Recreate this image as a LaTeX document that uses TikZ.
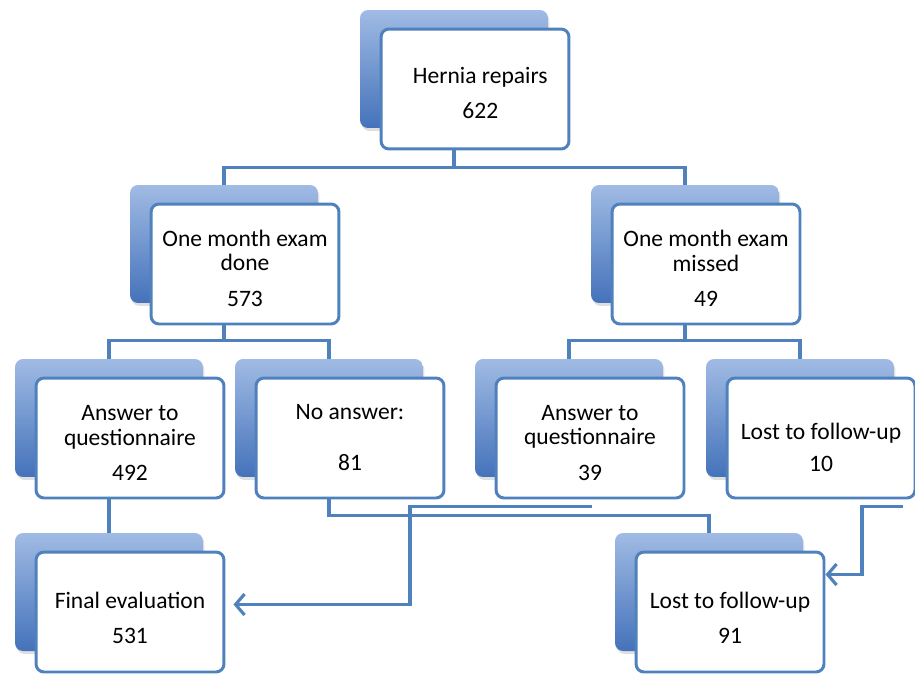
\documentclass[tikz,border=0pt]{standalone}
\usepackage{fontspec}
\setmainfont{Carlito}
\usetikzlibrary{arrows.meta,shadows}
\definecolor{lineblue}{RGB}{79,129,189}
\definecolor{cardtop}{RGB}{160,187,228}
\definecolor{cardbot}{RGB}{68,114,186}
\newcommand{\tallline}[1][14pt]{\rule{0pt}{#1}}

\begin{document}
\begin{tikzpicture}[
    x=0.02cm, y=-0.02cm,
    every node/.style={font=\fontsize{13.4}{14}\selectfont},
    card/.style={rounded corners=0.16cm, minimum width=3.76cm, minimum height=2.36cm, top color=cardtop, bottom color=cardbot, draw=none,
        drop shadow={shadow xshift=0.3mm, shadow yshift=-0.6mm, opacity=0.25}},
    box/.style={draw=lineblue, line width=1.7pt, rounded corners=0.16cm, fill=white, align=center, minimum width=3.76cm, minimum height=2.4cm, inner sep=0pt},
    link/.style={draw=lineblue, line width=1.8pt},
    jump/.style={link, -{Straight Barb[length=1.8mm,width=4.2mm]}}
]
\useasboundingbox (0,0) rectangle (915,676);
% level 1
\node[card] (herniaback) at (454,69) {};
\node[box] (hernia) at ([shift={(21,20)}]herniaback) {\tallline\hspace*{6pt}Hernia repairs\\[6pt]\hspace*{6pt}622};
% level 2
\node[card] (doneback) at (224,244) {};
\node[box] (done) at ([shift={(21,20)}]doneback) {\tallline One month exam\\done\\[6pt]573};
\node[card] (missedback) at (685,244) {};
\node[box] (missed) at ([shift={(21,20)}]missedback) {\tallline One month exam\\missed\\[6pt]49};
% level 3
\node[card] (ansdoneback) at (109,418) {};
\node[box] (ansdone) at ([shift={(21,20)}]ansdoneback) {\tallline Answer to\\questionnaire\\[6pt]492};
\node[card] (noansback) at (329,418) {};
\node[box] (noans) at ([shift={(21,20)}]noansback) {No answer:\\[15pt]81};
\node[card] (ansmissedback) at (569,418) {};
\node[box] (ansmissed) at ([shift={(21,20)}]ansmissedback) {\tallline Answer to\\questionnaire\\[6pt]39};
\node[card] (losttenback) at (800,418) {};
\node[box] (lostten) at ([shift={(21,20)}]losttenback) {\tallline[20pt]Lost to follow-up\\[4pt]10};
% level 4
\node[card] (finalback) at (109,592) {};
\node[box] (final) at ([shift={(21,20)}]finalback) {\tallline[16pt]Final evaluation\\[6pt]531};
\node[card] (lostallback) at (709,592) {};
\node[box] (lostall) at ([shift={(21,20)}]lostallback) {\tallline[16pt]Lost to follow-up\\[6pt]91};
% tree links
\draw[link] (herniaback.center |- hernia.south) -- ++(0,17) coordinate (tophub);
\draw[link] (doneback.north) |- (tophub) -| (missedback.north);
\draw[link] (doneback.center |- done.south) -- ++(0,15) coordinate (donehub);
\draw[link] (ansdoneback.north) |- (donehub) -| (noansback.north);
\draw[link] (missedback.center |- missed.south) -- ++(0,15) coordinate (missedhub);
\draw[link] (ansmissedback.north) |- (missedhub) -| (losttenback.north);
\draw[link] (ansdoneback.center |- ansdone.south) -- (finalback.north);
\draw[link] (noansback.center |- noans.south) -- ++(0,16) -| (lostallback.north);
% arrows
\draw[jump, shorten >=0.16cm] ([shift={(2,7)}]ansmissed.south) -- ++(-182,0) |- ([yshift=0.15cm]final.east);
\draw[jump] ([shift={(82,7)}]lostten.south) -- ++(-41,0) |- ([yshift=0.75cm]lostall.east);
\end{tikzpicture}
\end{document}
